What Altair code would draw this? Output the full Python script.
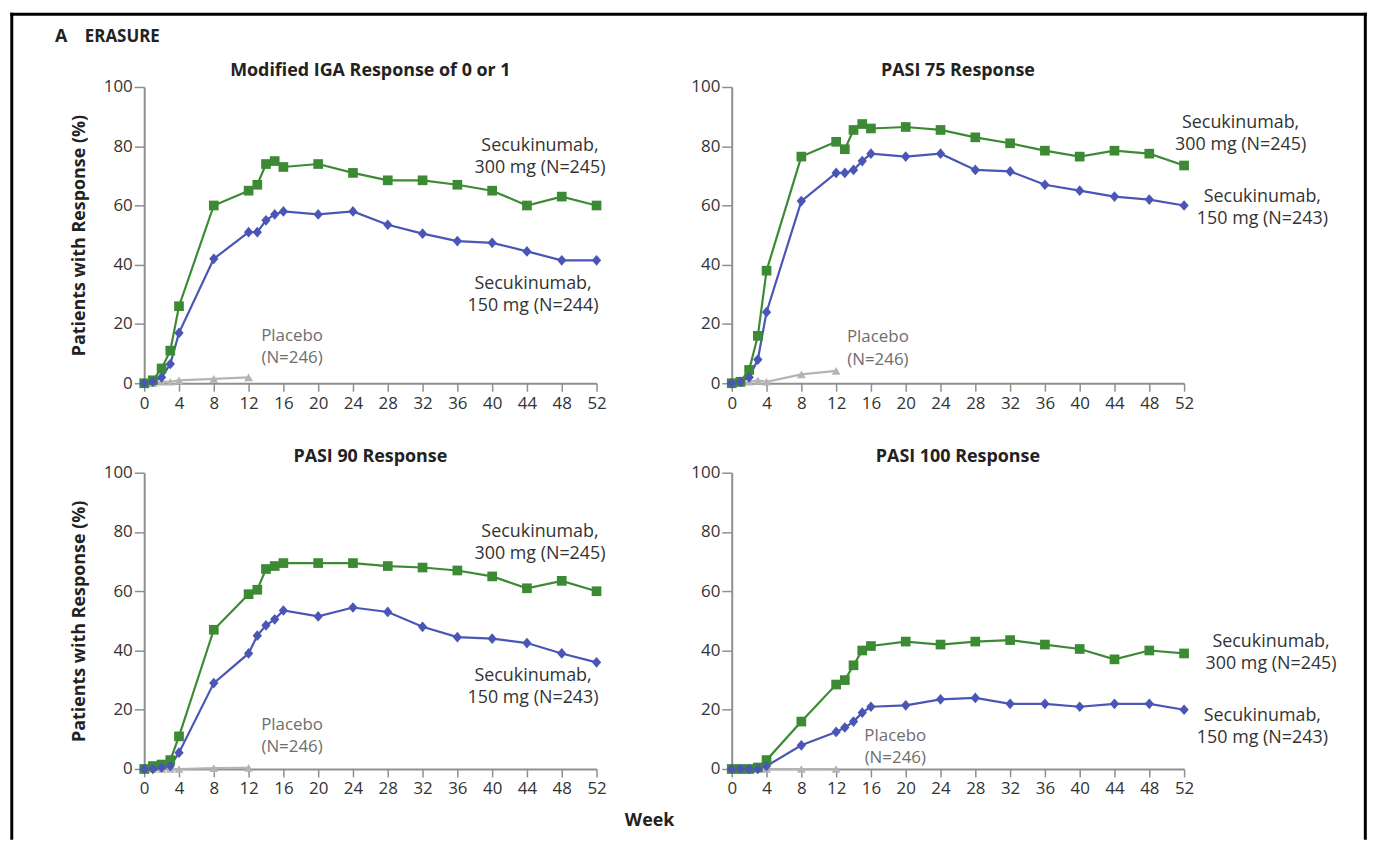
import altair as alt
import pandas as pd

# ---------------- data ----------------
weeks = [0, 1, 2, 3, 4, 8, 12, 13, 14, 15, 16, 20, 24, 28, 32, 36, 40, 44, 48, 52]
placebo_weeks = [0, 1, 2, 3, 4, 8, 12]
x_ticks = [0, 4, 8, 12, 16, 20, 24, 28, 32, 36, 40, 44, 48, 52]
y_ticks = [0, 20, 40, 60, 80, 100]

panel_titles = ["Modified IGA Response of 0 or 1", "PASI 75 Response",
                "PASI 90 Response", "PASI 100 Response"]

iga_300 = [0, 1, 5, 11, 26, 60, 65, 67, 74, 75, 73, 74, 71, 68.5, 68.5, 67, 65, 60, 63, 60]
iga_150 = [0, 0.5, 2, 6.5, 17, 42, 51, 51, 55, 57, 58, 57, 58, 53.5, 50.5, 48, 47.4, 44.5, 41.5, 41.5]
iga_pbo = [0, 0, 0.5, 0.5, 1, 1.5, 2]

p75_300 = [0, 0.5, 4.5, 16, 38, 76.5, 81.5, 79, 85.5, 87.5, 86, 86.5, 85.5, 83, 81, 78.5, 76.5, 78.5, 77.5, 73.5]
p75_150 = [0, 0.5, 2, 8, 24, 61.5, 71, 71, 72, 75, 77.5, 76.5, 77.5, 72, 71.5, 67, 65, 63, 62, 60]
p75_pbo = [0, 0, 0.5, 1, 0.5, 3, 4.2]

p90_300 = [0, 1, 1.5, 3, 11, 47, 59, 60.5, 67.5, 68.5, 69.5, 69.5, 69.5, 68.5, 68, 67, 65, 61, 63.5, 60]
p90_150 = [0, 0, 0.5, 1, 5.5, 29, 39, 45, 48.5, 50.5, 53.5, 51.5, 54.5, 53, 48, 44.5, 44, 42.5, 39, 36]
p90_pbo = [0, 0, 0, 0, 0, 0.3, 0.4]

p100_300 = [0, 0, 0, 0.5, 3, 16, 28.5, 30, 35, 40, 41.5, 43, 42, 43, 43.5, 42, 40.5, 37, 40, 39]
p100_150 = [0, 0, 0, 0, 1, 8, 12.5, 14, 16, 19, 21, 21.5, 23.5, 24, 22, 22, 21, 22, 22, 20]
p100_pbo = [0, 0, 0, 0, 0, 0, 0]

series_300 = [iga_300, p75_300, p90_300, p100_300]
series_150 = [iga_150, p75_150, p90_150, p100_150]
series_pbo = [iga_pbo, p75_pbo, p90_pbo, p100_pbo]

n300_text = ["300 mg (N=245)"] * 4
n150_text = ["150 mg (N=244)", "150 mg (N=243)", "150 mg (N=243)", "150 mg (N=243)"]
pbo_text = ["Placebo", "(N=246)"]

# label anchor positions (week, value of line 1, value of line 2)
lab300_week = [45.5, 58.5, 45.5, 62]
lab300_y = [[80, 72.5], [88, 80.5], [80, 72.5], [43, 35.5]]
lab150_week = [44.7, 61, 44.7, 61]
lab150_y = [[33.4, 26], [62.8, 55.3], [31.5, 24], [18, 10.5]]
labpbo_week = [17, 16.8, 17, 18.8]
labpbo_y = [[16, 8.5], [15.5, 8], [15, 7.5], [11.2, 3.7]]

names = ["Secukinumab 300 mg", "Secukinumab 150 mg", "Placebo"]
colors = ["#3c8a34", "#4a56b5", "#b4b4b4"]
diamond = "M0,-1.15L1,0L0,1.15L-1,0Z"
shapes = ["square", diamond, "triangle-up"]
sizes = [95, 80, 45]

W, H = 455, 298
FONT = "Open Sans"
AXIS_C = "#8f8f8f"
TXT_C = "#333333"
TITLE_C = "#222222"

x_scale = alt.Scale(domain=[0, 52], nice=False, zero=False)
y_scale = alt.Scale(domain=[0, 100], nice=False)
col_scale = alt.Scale(domain=names, range=colors)
shape_scale = alt.Scale(domain=names, range=shapes)
size_scale = alt.Scale(domain=names, range=sizes)

x_axis = alt.Axis(values=x_ticks, title=None, grid=False, tickSize=8,
                  labelPadding=4, labelFontSize=17, labelColor=TXT_C,
                  domainColor=AXIS_C, tickColor=AXIS_C, domainWidth=2,
                  tickWidth=1.5, labelFlush=False, labelOverlap=False)


def make_panel(i, left):
    rows = []
    for w, v in zip(placebo_weeks, series_pbo[i]):
        rows.append({"week": w, "value": v, "series": names[2]})
    for w, v in zip(weeks, series_300[i]):
        rows.append({"week": w, "value": v, "series": names[0]})
    for w, v in zip(weeks, series_150[i]):
        rows.append({"week": w, "value": v, "series": names[1]})
    df = pd.DataFrame(rows)

    yargs = dict(values=y_ticks, grid=False, tickSize=10, labelPadding=2,
                 labelFontSize=17, labelColor=TXT_C, domainColor=AXIS_C,
                 tickColor=AXIS_C, domainWidth=2, tickWidth=1.5,
                 labelOverlap=False)
    if left:
        yaxis = alt.Axis(titleFontSize=18, titleFontWeight="bold",
                         titleColor=TITLE_C, titlePadding=15, **yargs)
        ytitle = "Patients with Response (%)"
    else:
        yaxis = alt.Axis(**yargs)
        ytitle = None

    def X():
        return alt.X("week:Q", scale=x_scale, axis=x_axis)

    def Y():
        if ytitle is None:
            return alt.Y("value:Q", scale=y_scale, axis=yaxis, title=None)
        return alt.Y("value:Q", scale=y_scale, axis=yaxis, title=ytitle)

    base = alt.Chart(df)
    lines = base.mark_line(strokeWidth=2.2).encode(
        x=X(), y=Y(),
        color=alt.Color("series:N", scale=col_scale, legend=None),
        detail="series:N",
    )
    points = base.mark_point(filled=True, opacity=1).encode(
        x=X(), y=Y(),
        color=alt.Color("series:N", scale=col_scale, legend=None),
        shape=alt.Shape("series:N", scale=shape_scale, legend=None),
        size=alt.Size("series:N", scale=size_scale, legend=None),
    )

    lab_df = pd.DataFrame({
        "week": [lab300_week[i], lab300_week[i], lab150_week[i], lab150_week[i]],
        "value": [lab300_y[i][0], lab300_y[i][1], lab150_y[i][0], lab150_y[i][1]],
        "text": ["Secukinumab,", n300_text[i], "Secukinumab,", n150_text[i]],
    })
    labels = alt.Chart(lab_df).mark_text(
        align="center", baseline="middle", fontSize=18, color=TXT_C
    ).encode(x=X(), y=Y(), text="text:N")

    pbo_df = pd.DataFrame({
        "week": [labpbo_week[i], labpbo_week[i]],
        "value": [labpbo_y[i][0], labpbo_y[i][1]],
        "text": pbo_text,
    })
    pbo_labels = alt.Chart(pbo_df).mark_text(
        align="center", baseline="middle", fontSize=17, color="#6e6e6e"
    ).encode(x=X(), y=Y(), text="text:N")

    one = alt.Chart(pd.DataFrame({"k": [0]}))
    title = one.mark_text(
        text=panel_titles[i], align="center", baseline="middle", fontSize=18,
        fontWeight="bold", color=TITLE_C,
    ).encode(x=alt.value(W / 2), y=alt.value(-16))

    layers = [lines, points, labels, pbo_labels, title]

    if i == 0:
        fr = dict(color="black", strokeWidth=3)
        layers.append(one.mark_rule(**fr).encode(
            x=alt.value(-133.2), y=alt.value(-74.7), y2=alt.value(757.3)))
        layers.append(one.mark_rule(**fr).encode(
            x=alt.value(-134.7), x2=alt.value(1229.8), y=alt.value(-73.2)))
        layers.append(one.mark_rule(**fr).encode(
            x=alt.value(1228.3), y=alt.value(-74.7), y2=alt.value(757.3)))
        layers.append(one.mark_text(
            text="A", align="left", baseline="middle", fontSize=18,
            fontWeight="bold", color=TITLE_C).encode(
            x=alt.value(-89.7), y=alt.value(-50.4)))
        layers.append(one.mark_text(
            text="ERASURE", align="left", baseline="middle", fontSize=17,
            fontWeight="bold", color=TITLE_C).encode(
            x=alt.value(-59.7), y=alt.value(-50.4)))
    if i == 2:
        wk = pd.DataFrame({"week": [58.1], "value": [-17.4], "text": ["Week"]})
        layers.append(alt.Chart(wk).mark_text(
            align="center", baseline="middle", fontSize=18, fontWeight="bold",
            color=TITLE_C).encode(x=X(), y=Y(), text="text:N"))

    return alt.layer(*layers).properties(width=W, height=H)


panels = [make_panel(0, True), make_panel(1, False),
          make_panel(2, True), make_panel(3, False)]

chart = alt.concat(
    *panels, columns=2, spacing={"row": 90, "column": 136}, bounds="flush",
    padding=0,
).configure(font=FONT).configure_view(stroke=None).configure_axis(
    labelOverlap=False, labelFlush=False
)

chart.save("out.html", embed_options={"renderer": "svg", "actions": False})
